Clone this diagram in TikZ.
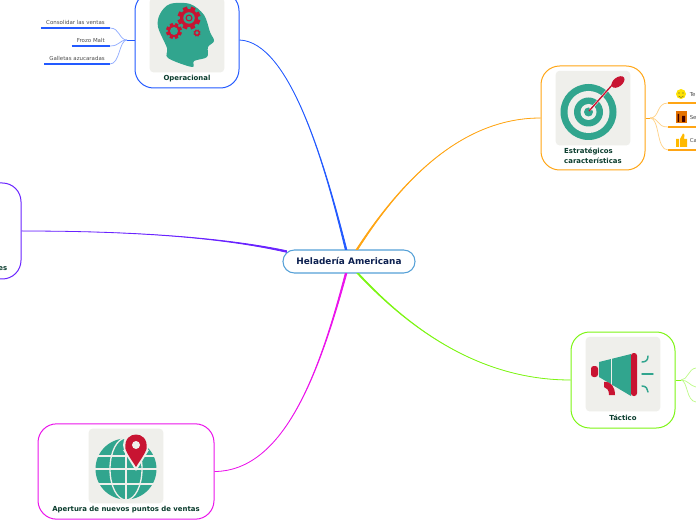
\documentclass[tikz,border=0pt]{standalone}
\usepackage{fontspec}
\setmainfont{DejaVu Sans}
\usepackage{xcolor}
\definecolor{TileGray}{RGB}{239,239,235}
\definecolor{IconTeal}{RGB}{49,165,142}
\definecolor{IconRed}{RGB}{200,20,50}
\definecolor{LabelGreen}{RGB}{10,60,45}
\definecolor{HubNavy}{RGB}{12,32,80}
\definecolor{HubBlue}{RGB}{85,160,215}
\definecolor{OperBlue}{RGB}{35,90,255}
\definecolor{EstrOrange}{RGB}{255,165,20}
\definecolor{TactGreen}{RGB}{125,245,20}
\definecolor{AperPink}{RGB}{235,20,235}
\definecolor{LeftViolet}{RGB}{105,35,255}
\usetikzlibrary{positioning,calc}

\newcommand{\gearicon}[3]{%
    \fill[IconRed] (#1,#2) circle ({#3*0.78});
    \foreach \a in {0,45,...,315}
        \fill[IconRed, shift={(#1,#2)}, rotate=\a+22] ({-#3*0.2},0) rectangle ({#3*0.2},#3);
    \fill[IconTeal] (#1,#2) circle ({#3*0.5});
}

\begin{document}
\begin{tikzpicture}[
    x=0.75pt, y=-0.75pt,
    hubbox/.style={rectangle, draw=HubBlue, fill=white, rounded corners=8.5pt, line width=0.8pt,
                minimum width=99pt, minimum height=17.25pt, inner sep=0pt,
                text=HubNavy, font=\fontsize{6.7}{8}\selectfont\bfseries},
    topicbox/.style={rectangle, draw=#1, fill=white, rounded corners=14pt, line width=0.75pt,
                minimum width=78pt, minimum height=72pt, inner sep=0pt},
    tile/.style={rectangle, fill=TileGray, rounded corners=3pt, minimum size=56pt, inner sep=0pt},
    toplabel/.style={text=LabelGreen, inner sep=0pt, align=left,
                font=\fontsize{5.2}{7.5}\selectfont\bfseries},
    leaf/.style={text=black!70, inner xsep=3.75pt, inner ysep=2.2pt,
                font=\fontsize{4.1}{5}\selectfont},
    branch/.style={line width=0.6pt, draw=#1},
    twig/.style={line width=0.55pt, draw=#1!50},
    leafline/.style={line width=1.1pt, draw=#1}
]
    \useasboundingbox (0,0) rectangle (696,520);
    \clip (0,0) rectangle (696,520);

    \node[hubbox] (hub) at (349,261.5) {\raisebox{0.5pt}{Heladería Americana}};
    \node[topicbox=OperBlue] (oper) at (187,40) {};
    \node[topicbox=EstrOrange, minimum height=78pt] (estr) at (593,118) {};
    \node[topicbox=TactGreen] (tact) at (623,380) {};
    \node[topicbox=AperPink, minimum width=132pt, minimum height=71.5pt] (aper) at (126,471.5) {};
    \node[topicbox=LeftViolet] (left) at (-31,231) {};

    \node[tile, below=3.75pt of estr.north] (estrtile) {};
    \node[tile, below=3.75pt of tact.north] (tacttile) {};
    \node[tile, below=3.75pt of aper.north] (apertile) {};
    \node[tile, below=4.5pt of oper.north] (opertile) {};

    \node[toplabel, below=1.8pt of opertile] (operlabel) {Operacional};
    \node[toplabel, below=1.6pt of estrtile] (estrlabel) {Estratégicos\\características};
    \node[toplabel, below=2.2pt of tacttile] (tactlabel) {Táctico};
    \node[toplabel, below=1.6pt of apertile] (aperlabel) {Apertura de nuevos puntos de ventas};
    \node[toplabel, anchor=east] (leftlabel) at (7.5,269) {es};

    % main branches, widening towards the hub
    \draw[branch=OperBlue, fill=OperBlue] (oper.east) .. controls (290,42) and (325,165) .. ($(hub.north)+(-3.8,0)$) -- ($(hub.north)+(-2.2,0)$) .. controls (325,165) and (290,42) .. (oper.east);
    \draw[branch=EstrOrange, fill=EstrOrange] (estr.west) .. controls (465,118) and (405,175) .. ($(hub.north)+(7.2,0)$) -- ($(hub.north)+(8.8,0)$) .. controls (405,175) and (465,118) .. (estr.west);
    \draw[branch=TactGreen, fill=TactGreen] (tact.west) .. controls (490,380) and (420,340) .. ($(hub.south)+(8.2,0)$) -- ($(hub.south)+(9.8,0)$) .. controls (420,340) and (490,380) .. (tact.west);
    \draw[branch=AperPink, fill=AperPink] (aper.east) .. controls (285,471) and (320,370) .. ($(hub.south)+(-3.8,0)$) -- ($(hub.south)+(-2.2,0)$) .. controls (320,370) and (285,471) .. (aper.east);
    \draw[branch=LeftViolet, fill=LeftViolet] (left.east) .. controls (130,231) and (220,237) .. ($(hub.north west)+(4,1.2)$) -- ($(hub.north west)+(4,2.8)$) .. controls (220,237) and (130,231) .. (left.east);

    % operacional leaves
    \node[leaf, anchor=south east] (consolidar) at (110,28) {Consolidar las ventas};
    \node[leaf, anchor=south east] (frozo) at (110,46) {Frozo Malt};
    \node[leaf, anchor=south east] (galletas) at (110,64) {Galletas azucaradas};
    \coordinate (operfork) at (127,40);
    \draw[branch=OperBlue] (oper.west) -- (operfork);
    \foreach \t/\yy in {consolidar/28,frozo/46,galletas/64} {
        \draw[leafline=OperBlue] (\t.south west) -- (\t.south east);
        \draw[twig=OperBlue] (operfork) .. controls (119,40) and (120,\yy) .. (\t.south east);
    }

    % estrategicos leaves
    \coordinate (estrfork) at (650,118);
    \foreach \t/\yy in {te/103,se/127,ca/150} {
        \coordinate (\t line) at (668,\yy);
        \coordinate (\t lineend) at (696,\yy);
        \draw[leafline=EstrOrange] (\t line) -- (\t lineend);
        \draw[twig=EstrOrange] (estrfork) .. controls (660,118) and (656,\yy) .. (\t line);
    }
    \draw[branch=EstrOrange] (estr.east) -- (estrfork);
    \fill[yellow!85!orange] (681,94) circle (5);
    \fill[black!70] (679,93) circle (0.6) (683,93) circle (0.6);
    \draw[black!70, line width=0.25pt] (678.5,96) .. controls (680,98) and (682,98) .. (683.5,96);
    \fill[orange!90!black] (675.5,111.5) rectangle (687,123);
    \fill[black!75!red] (677.5,114) rectangle (679,122) (682,116) rectangle (685,122);
    \fill[orange!55!yellow] (676,139) rectangle (679,147) (680,139) -- (683,133.5) -- (684.5,135) -- (684,139) -- (687,139) -- (687,147) -- (680,147) -- cycle;
    \node[leaf, inner sep=0pt, anchor=west] (telabel) at (689.5,95) {Te};
    \node[leaf, inner sep=0pt, anchor=west] (selabel) at (689.5,118) {Se};
    \node[leaf, inner sep=0pt, anchor=west] (calabel) at (689.5,141) {Ca};

    % tactico leaves
    \coordinate (tactfork) at (681,380);
    \coordinate (tactone) at (696,368);
    \coordinate (tacttwo) at (696,387);
    \coordinate (tactthree) at (696,402);
    \draw[branch=TactGreen] (tact.east) -- (tactfork);
    \draw[twig=TactGreen] (tactfork) .. controls (688,380) and (688,369) .. (tactone);
    \draw[twig=TactGreen] (tactfork) .. controls (688,380) and (690,386) .. (tacttwo);
    \draw[twig=TactGreen] (tactfork) .. controls (688,381) and (686,401) .. (tactthree);

    % head icon
    \fill[IconTeal] plot[smooth cycle, tension=0.55] coordinates {(170,4) (160,14) (158,27) (167,48) (168,58) (192,67) (194,61) (207,57) (208,47) (214,41) (210,32) (204,15) (190,4)};
    \gearicon{189}{18}{11.5}
    \fill[IconRed] (189,18) circle (3.5);
    \fill[IconTeal] (189,18) circle (2.2);
    \gearicon{174}{31}{8}
    \gearicon{197}{33}{3.5}

    % target icon
    \fill[IconTeal] (588.5,112) circle (28);
    \fill[TileGray] (588.5,112) circle (21);
    \fill[IconTeal] (588.5,112) circle (14.5);
    \fill[TileGray] (588.5,112) circle (8);
    \fill[IconTeal] (588.5,112) circle (4.5);
    \draw[TileGray, line width=1.8pt] (590,110) -- (612,85);
    \draw[IconRed, line width=1pt] (589,111) -- (613,84);
    \fill[IconRed, rotate around={38:(618,82)}] (618,82) ellipse (7.5 and 4.5);

    % megaphone icon
    \fill[IconTeal] (599,362) -- (631,354) -- (631,396) -- (599,377) -- cycle;
    \draw[TileGray, line width=0.6pt] (611,358) -- (611,385);
    \fill[IconRed, rounded corners=2pt] (631,353) rectangle (637,396);
    \fill[IconRed, rounded corners=2pt] (591,366) rectangle (598,377);
    \fill[IconRed] (604,382) .. controls (611,381) and (615,387) .. (615,395) -- (609,395) .. controls (609,390) and (607,388) .. (604,387) -- cycle;
    \draw[IconTeal, line width=1.1pt, line cap=round] (642,374) -- (653,374);
    \draw[IconTeal, line width=1.1pt, line cap=round] (642,362) .. controls (646,362) and (648,360) .. (648,356);
    \draw[IconTeal, line width=1.1pt, line cap=round] (642,386) .. controls (646,386) and (648,389) .. (648,392);

    % globe icon
    \fill[IconTeal] (126,469) circle (30.5);
    \draw[TileGray, line width=1pt] (96,456) -- (156,456) (95,469) -- (157,469) (96,484) -- (156,484) (126,438) -- (126,500);
    \draw[TileGray, line width=1pt] (126,469) ellipse (16 and 31);
    \fill[TileGray] (136,445) circle (13);
    \fill[TileGray] (123,450) -- (149,450) -- (136,471) -- cycle;
    \fill[IconRed] (125.5,449) .. controls (124,438) and (131,434.5) .. (136,434.5) .. controls (141,434.5) and (148,438) .. (146.5,449) .. controls (145,454) and (139,462) .. (136,467) .. controls (133,462) and (127,454) .. (125.5,449) -- cycle;
    \fill[TileGray] (136,445) circle (4);
\end{tikzpicture}
\end{document}
